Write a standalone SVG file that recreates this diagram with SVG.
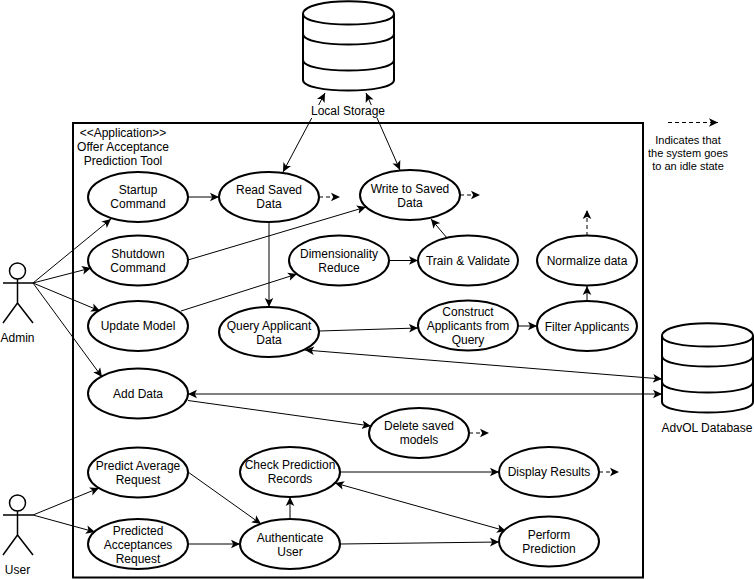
<svg xmlns="http://www.w3.org/2000/svg" xmlns:xlink="http://www.w3.org/1999/xlink" width="754" height="579" viewBox="0 0 754 579">
<style>
text{font-family:"Liberation Sans",Arial,sans-serif;font-size:12px;fill:#000;text-anchor:middle}
.legend{font-size:11px}
.uc{fill:#fff;stroke:#000;stroke-width:2}
.frame{fill:none;stroke:#000;stroke-width:2}
.db{fill:#fff;stroke:#000;stroke-width:2}
.band{fill:none;stroke:#000;stroke-width:2}
.act{fill:none;stroke:#000;stroke-width:1.5}
.c{fill:none;stroke:#000;stroke-width:1;marker-end:url(#a)}
.b{marker-start:url(#a)}
.d{stroke-dasharray:4 3}
</style>
<defs>
<marker id="a" markerUnits="userSpaceOnUse" markerWidth="10" markerHeight="10" refX="9" refY="5" orient="auto-start-reverse">
<path d="M0,0.700 L9,5 L0,9.300 L2.200,5 Z" fill="#000"/>
</marker>
<g id="cyl">
<path class="db" d="M303,14 C303,-3 394,-3 394,14 L394,80 C394,94 303,94 303,80 Z"/>
<path class="band" d="M303,14 C303,28 394,28 394,14 M303,34 C303,48 394,48 394,34 M303,60 C303,74 394,74 394,60"/>
</g>
</defs>
<rect id="system-frame" class="frame" x="73" y="123" width="570" height="454.500"/>
<g id="connectors">
<path class="c" d="M33,283 L111,219"/>
<path class="c" d="M33,283 L91,268"/>
<path class="c" d="M33,283 L100,311"/>
<path class="c" d="M33,283 L102,377"/>
<path class="c" d="M33,515 L99,488"/>
<path class="c" d="M33,515 L95,532"/>
<path class="c" d="M188,197 L219,197"/>
<path class="c d" d="M319,197 L340,197"/>
<path class="c d" d="M460,195 L480,195"/>
<path class="c" d="M188,260 L366,207"/>
<path class="c" d="M181,311 L297,274"/>
<path class="c" d="M269,222 L269,307"/>
<path class="c" d="M389,260.500 L418,260.500"/>
<path class="c" d="M447,238 L431,219"/>
<path class="c d" d="M587,236 L587,210"/>
<path class="c" d="M587,301 L587,286"/>
<path class="c" d="M518,326 L537,326"/>
<path class="c" d="M319,331 L418,328"/>
<path class="c b" d="M305,350 L662,379"/>
<path class="c b" d="M188,394 L662,394"/>
<path class="c" d="M188,400.500 L371,426"/>
<path class="c d" d="M469,433 L489,433"/>
<path class="c" d="M188,472 L261,524"/>
<path class="c" d="M188,544 L240,544"/>
<path class="c" d="M290,519 L290,497"/>
<path class="c" d="M340,472 L499,472"/>
<path class="c b" d="M335,483 L506,531"/>
<path class="c" d="M340,544 L499,542"/>
<path class="c d" d="M599,472 L619,472"/>
<path class="c b" d="M283,172 L325,93"/>
<path class="c b" d="M400,170 L366,93"/>
<path class="c d" d="M668,122.500 L718,122.500"/>
</g>
<g id="local-storage"><use xlink:href="#cyl" href="#cyl"/><rect x="311" y="105" width="74" height="13" fill="#fff"/><text x="348" y="115">Local Storage</text></g>
<g id="advol-database"><use xlink:href="#cyl" href="#cyl" x="359" y="322"/><text x="707" y="432">AdvOL Database</text></g>
<g id="frame-title"><text x="123" y="137">&lt;&lt;Application&gt;&gt;</text><text x="123" y="151">Offer Acceptance</text><text x="123" y="165">Prediction Tool</text></g>
<g id="legend-text"><text class="legend" x="688" y="144">Indicates that</text><text class="legend" x="688" y="157">the system goes</text><text class="legend" x="688" y="170">to an idle state</text></g>
<g id="admin"><circle class="act" cx="17.500" cy="271" r="8"/><path class="act" d="M3,283 L33,283 M17.500,279 L17.500,303 L3,323 M17.500,303 L33,323"/><text x="17.500" y="342">Admin</text></g>
<g id="user"><circle class="act" cx="17.500" cy="503" r="8"/><path class="act" d="M3,515 L33,515 M17.500,511 L17.500,535 L3,555 M17.500,535 L33,555"/><text x="17.500" y="574">User</text></g>
<g id="startup"><ellipse class="uc" cx="138" cy="197" rx="50" ry="25"/><text x="138" y="194">Startup</text><text x="138" y="208">Command</text></g>
<g id="read-saved"><ellipse class="uc" cx="269" cy="197" rx="50" ry="25"/><text x="269" y="194">Read Saved</text><text x="269" y="208">Data</text></g>
<g id="write-saved"><ellipse class="uc" cx="410" cy="195" rx="50" ry="25"/><text x="410" y="193">Write to Saved</text><text x="410" y="207">Data</text></g>
<g id="shutdown"><ellipse class="uc" cx="138" cy="260.500" rx="50" ry="25"/><text x="138" y="258">Shutdown</text><text x="138" y="272">Command</text></g>
<g id="dimensionality"><ellipse class="uc" cx="339" cy="260.500" rx="50" ry="25"/><text x="339" y="258">Dimensionality</text><text x="339" y="272">Reduce</text></g>
<g id="train"><ellipse class="uc" cx="468" cy="260.500" rx="50" ry="25"/><text x="468" y="265">Train &amp; Validate</text></g>
<g id="normalize"><ellipse class="uc" cx="587" cy="260.500" rx="50" ry="25"/><text x="587" y="265">Normalize data</text></g>
<g id="update-model"><ellipse class="uc" cx="138" cy="326" rx="50" ry="25"/><text x="138" y="330">Update Model</text></g>
<g id="query"><ellipse class="uc" cx="269" cy="332" rx="50" ry="25"/><text x="269" y="330">Query Applicant</text><text x="269" y="344">Data</text></g>
<g id="construct"><ellipse class="uc" cx="468" cy="325.500" rx="50" ry="25"/><text x="468" y="316">Construct</text><text x="468" y="330">Applicants from</text><text x="468" y="344">Query</text></g>
<g id="filter"><ellipse class="uc" cx="587" cy="326" rx="50" ry="25"/><text x="587" y="331">Filter Applicants</text></g>
<g id="add-data"><ellipse class="uc" cx="138" cy="393.500" rx="50" ry="25"/><text x="138" y="398">Add Data</text></g>
<g id="delete-models"><ellipse class="uc" cx="419" cy="433" rx="50" ry="25"/><text x="419" y="430">Delete saved</text><text x="419" y="444">models</text></g>
<g id="predict-average"><ellipse class="uc" cx="138" cy="472.500" rx="50" ry="25"/><text x="138" y="470">Predict Average</text><text x="138" y="484">Request</text></g>
<g id="predicted-acceptances"><ellipse class="uc" cx="138" cy="544" rx="50" ry="25"/><text x="138" y="535">Predicted</text><text x="138" y="549">Acceptances</text><text x="138" y="563">Request</text></g>
<g id="check-records"><ellipse class="uc" cx="290" cy="472" rx="50" ry="25"/><text x="290" y="469">Check Prediction</text><text x="290" y="483">Records</text></g>
<g id="authenticate"><ellipse class="uc" cx="290" cy="544" rx="50" ry="25"/><text x="290" y="542">Authenticate</text><text x="290" y="556">User</text></g>
<g id="display-results"><ellipse class="uc" cx="549" cy="472" rx="50" ry="25"/><text x="549" y="476">Display Results</text></g>
<g id="perform-prediction"><ellipse class="uc" cx="549" cy="541.500" rx="50" ry="25"/><text x="549" y="539">Perform</text><text x="549" y="553">Prediction</text></g>
</svg>
